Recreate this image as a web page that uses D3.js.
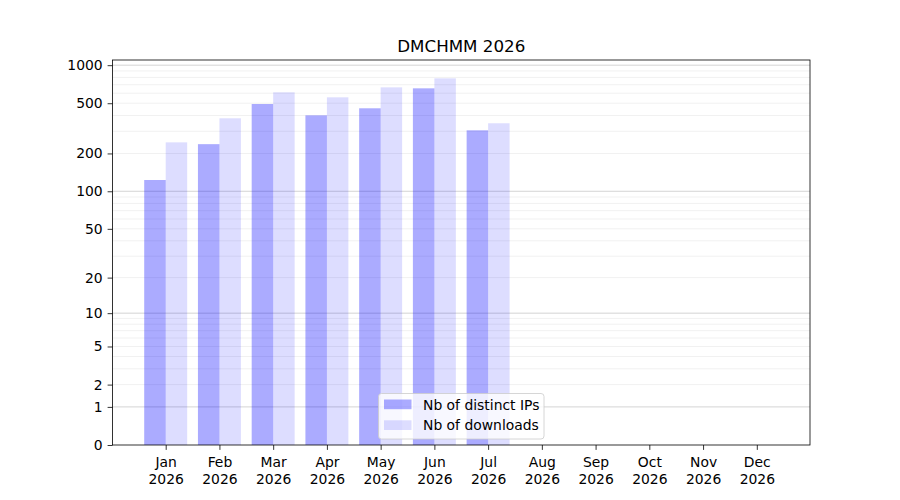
<!DOCTYPE html>
<html>
<head>
<meta charset="utf-8">
<script src="https://cdn.jsdelivr.net/npm/d3@7"></script>
<style>
  body { margin: 0; background: #fff; }
  svg { font-family: "DejaVu Sans", sans-serif; }
</style>
</head>
<body>
<div id="chart"></div>
<script>
// chart data
const months = ["Jan", "Feb", "Mar", "Apr", "May", "Jun", "Jul", "Aug", "Sep", "Oct", "Nov", "Dec"];
const year = "2026";
const distinctIPs = [123, 237, 493, 401, 456, 656, 305, 0, 0, 0, 0, 0];
const downloads = [245, 380, 610, 557, 668, 787, 347, 0, 0, 0, 0, 0];
const yTickValues = [0, 1, 2, 5, 10, 20, 50, 100, 200, 500, 1000];
const majorGrid = [1, 10, 100, 1000];
const minorGrid = [2, 3, 4, 5, 6, 7, 8, 9, 20, 30, 40, 50, 60, 70, 80, 90, 200, 300, 400, 500, 600, 700, 800, 900];
const seriesNames = ["Nb of distinct IPs", "Nb of downloads"];

const width = 900, height = 500;
const margin = {top: 60, right: 90, bottom: 55, left: 112.5};
const barW = 0.4;

const svg = d3.select("#chart").append("svg")
    .attr("width", width)
    .attr("height", height);

// x: month index, padded like matplotlib's 5% margins
const lo = -barW, hi = months.length - 1 + barW;
const pad = (hi - lo) * 0.05;
const x = d3.scaleLinear()
    .domain([lo - pad, hi + pad])
    .range([margin.left, width - margin.right]);

// y: log(1 + v) scale, top padded 5% in transformed space
const maxV = d3.max(downloads.concat(distinctIPs));
const yTop = Math.expm1(Math.log1p(maxV) * 1.05);
const y = d3.scaleSymlog().constant(1)
    .domain([0, yTop])
    .range([height - margin.bottom, margin.top]);

const plot = svg.append("g");

// grid
plot.selectAll(".minor")
    .data(minorGrid)
    .enter().append("line")
    .attr("class", "minor")
    .attr("x1", margin.left).attr("x2", width - margin.right)
    .attr("y1", d => y(d)).attr("y2", d => y(d))
    .attr("stroke", "#000").attr("stroke-opacity", 0.075)
    .attr("stroke-width", 0.8);

plot.selectAll(".major")
    .data(majorGrid)
    .enter().append("line")
    .attr("class", "major")
    .attr("x1", margin.left).attr("x2", width - margin.right)
    .attr("y1", d => y(d)).attr("y2", d => y(d))
    .attr("stroke", "#000").attr("stroke-opacity", 0.22)
    .attr("stroke-width", 0.8);

// bars
plot.selectAll(".ips")
    .data(distinctIPs)
    .enter().append("rect")
    .attr("class", "ips")
    .attr("x", (d, i) => x(i - barW))
    .attr("width", x(barW) - x(0))
    .attr("y", d => y(d))
    .attr("height", d => y(0) - y(d))
    .attr("fill", "blue")
    .attr("fill-opacity", 0.33);

plot.selectAll(".dl")
    .data(downloads)
    .enter().append("rect")
    .attr("class", "dl")
    .attr("x", (d, i) => x(i))
    .attr("width", x(barW) - x(0))
    .attr("y", d => y(d))
    .attr("height", d => y(0) - y(d))
    .attr("fill", "blue")
    .attr("fill-opacity", 0.135);

// axes
const yAxis = svg.append("g")
    .attr("transform", "translate(" + margin.left + ",0)")
    .call(d3.axisLeft(y).tickValues(yTickValues).tickFormat(d3.format("d"))
        .tickSize(4.9).tickPadding(4.9));
yAxis.select(".domain").remove();
yAxis.selectAll("text").attr("font-size", 13.9).attr("fill", "#000")
    .attr("font-family", "DejaVu Sans");
yAxis.selectAll("line").attr("stroke", "#000").attr("stroke-width", 0.8);

const xAxis = svg.append("g")
    .attr("transform", "translate(0," + (height - margin.bottom) + ")")
    .call(d3.axisBottom(x).tickValues(d3.range(months.length))
        .tickFormat("").tickSize(4.9));
xAxis.select(".domain").remove();
xAxis.selectAll("line").attr("stroke", "#000").attr("stroke-width", 0.8);
xAxis.selectAll(".tick").each(function(d) {
    const t = d3.select(this).append("text")
        .attr("text-anchor", "middle")
        .attr("font-size", 13.9)
        .attr("font-family", "DejaVu Sans")
        .attr("fill", "#000");
    t.append("tspan").attr("x", 0).attr("y", 21.5).text(months[d]);
    t.append("tspan").attr("x", 0).attr("y", 38.5).text(year);
});

// frame
svg.append("rect")
    .attr("x", margin.left).attr("y", margin.top)
    .attr("width", width - margin.left - margin.right)
    .attr("height", height - margin.top - margin.bottom)
    .attr("fill", "none").attr("stroke", "#000").attr("stroke-width", 0.8);

// title
svg.append("text")
    .attr("x", (margin.left + width - margin.right) / 2)
    .attr("y", 51.5)
    .attr("text-anchor", "middle")
    .attr("font-size", 16.7)
    .text("DMCHMM " + year);

// legend, lower center
const legend = svg.append("g")
    .attr("transform", "translate(378.5,393.5)");
legend.append("rect")
    .attr("width", 165.5).attr("height", 45.5)
    .attr("rx", 3)
    .attr("fill", "#fff").attr("fill-opacity", 0.8)
    .attr("stroke", "#ccc").attr("stroke-width", 0.8);
const opac = [0.33, 0.135];
seriesNames.forEach(function(name, i) {
    legend.append("rect")
        .attr("x", 5.5).attr("y", 6 + i * 20.8)
        .attr("width", 27.5).attr("height", 9.7)
        .attr("fill", "blue").attr("fill-opacity", opac[i]);
    legend.append("text")
        .attr("x", 44.5).attr("y", 16 + i * 20.8)
        .attr("font-size", 13.9)
        .text(name);
});
</script>
</body>
</html>
